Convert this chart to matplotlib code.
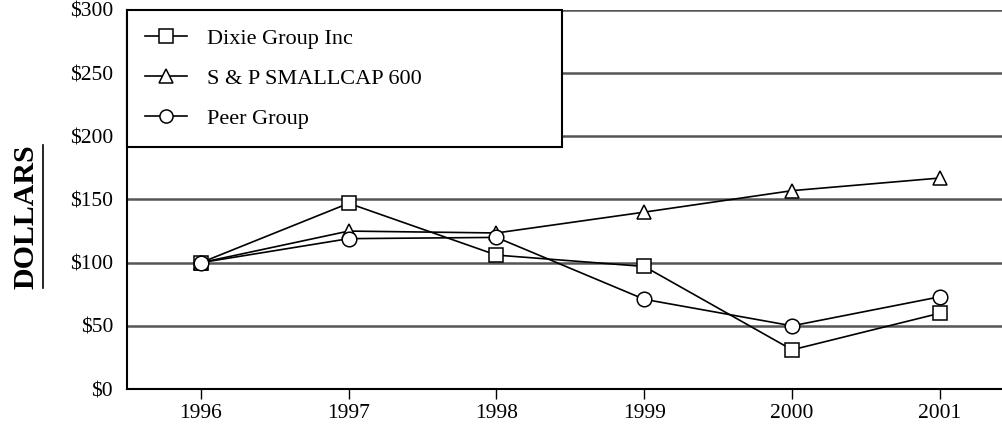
import matplotlib
matplotlib.use("Agg")
import matplotlib.pyplot as plt
from matplotlib.lines import Line2D

plt.rcParams['font.family'] = ['Liberation Serif', 'DejaVu Serif']

years = [1996, 1997, 1998, 1999, 2000, 2001]
dixie = [100, 147, 106, 97, 31, 60]
smallcap = [100, 125, 123.5, 140, 157, 167]
peer = [100, 119, 120, 71, 50, 73]
yticks = [0, 50, 100, 150, 200, 250, 300]

fig = plt.figure(figsize=(10.02, 4.25), dpi=100)
ax = fig.add_axes([0.1267, 0.0847, 0.8733, 0.8918])

for y in yticks[1:]:
    ax.axhline(y, color="#555555", lw=1.8, zorder=1)

mk = dict(color="black", lw=1.2, markersize=10.5, markerfacecolor="white",
          markeredgecolor="black", markeredgewidth=1.1, zorder=3)
ax.plot(years, dixie, marker="s", label="Dixie Group Inc", **mk)
ax.plot(years, smallcap, marker="^", label="S & P SMALLCAP 600", **mk)
ax.plot(years, peer, marker="o", label="Peer Group", **mk)

ax.set_xlim(1995.5, 2001.42)
ax.set_ylim(0, 300)
ax.set_xticks(years)
ax.set_yticks(yticks)
ax.set_yticklabels(["$%d" % v for v in yticks])
ax.tick_params(axis="y", length=0, pad=10, labelsize=15.5)
ax.tick_params(axis="x", length=7, width=1, pad=4, labelsize=15.5)
for s in ["top", "right"]:
    ax.spines[s].set_visible(False)
for s in ["left", "bottom"]:
    ax.spines[s].set_linewidth(1.5)

leg = ax.legend(loc="upper left", bbox_to_anchor=(0.0, 0.64, 0.497, 0.36),
                mode="expand", fontsize=16, markerscale=0.9,
                frameon=True, fancybox=False, borderaxespad=0,
                handlelength=1.9, labelspacing=0.88, borderpad=0.82,
                handletextpad=0.9)
leg.get_frame().set_edgecolor("black")
leg.get_frame().set_linewidth(1.5)
leg.get_frame().set_alpha(1)
leg.set_zorder(5)

fig.text(0.026, 0.49, "DOLLARS", rotation=90, ha="center", va="center",
         fontsize=21.5, fontweight="bold")
fig.add_artist(Line2D([0.043, 0.043], [0.322, 0.659], color="black", lw=1.2,
                      transform=fig.transFigure))

fig.savefig("out.png", dpi=100)
